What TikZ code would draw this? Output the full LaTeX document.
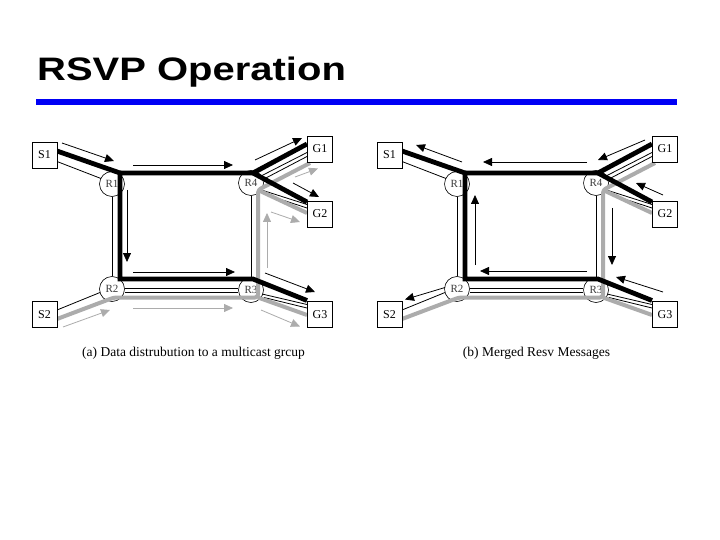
\documentclass[tikz,border=0pt]{standalone}
\usepackage{fontspec}
\usepackage{graphicx}
\setmainfont{Liberation Serif}
\newfontfamily\titlefont{Liberation Sans}
\usetikzlibrary{arrows.meta}
\definecolor{lgray}{RGB}{172,172,172}
\definecolor{barblue}{RGB}{0,0,245}
\definecolor{rtxt}{RGB}{60,60,60}
\tikzset{
  box/.style={draw, fill=white, line width=0.8pt, minimum width=25pt, minimum height=26pt, inner sep=0pt, font=\fontsize{12}{12}\selectfont},
  rtr/.style={draw, circle, line width=0.6pt, minimum size=25pt, inner sep=0pt, text=rtxt, font=\fontsize{11}{11}\selectfont},
  blk/.style={line width=4.8pt, black, line join=miter},
  gry/.style={line width=4pt, lgray, line join=round},
  chan/.style={line width=0.8pt, black},
  barr/.style={line width=0.8pt, black, -{Triangle[length=9pt,width=8pt]}},
  garr/.style={line width=0.8pt, lgray, -{Triangle[length=9pt,width=8pt]}},
  capt/.style={anchor=base, inner sep=0pt, font=\fontsize{13.5}{13.5}\selectfont}
}
\newcommand\rsvpnet[1]{%
  \node[rtr] (#1R1) at (112,184) {R1};
  \node[rtr] (#1R4) at (251,183) {R4};
  \node[rtr] (#1R2) at (112,289) {R2};
  \node[rtr] (#1R3) at (251,290) {R3};
  \coordinate (#1k1) at (120,173);
  \coordinate (#1k4) at (253,173);
  \coordinate (#1k2) at (120,279);
  \coordinate (#1k3) at (253,279);
  \coordinate (#1g2) at (114,297.5);
  \coordinate (#1g3) at (258,297.5);
  \coordinate (#1g4) at (258,190);
  % channel lines
  \draw[chan] (57,161.5) -- (101,178.5);
  \draw[chan] (57,310) -- (100,292.5);
  \draw[chan] (#1R1.south) -- (#1R2.north);
  \draw[chan] (#1R4.south) -- (#1R3.north);
  \draw[chan] (125,288.5) -- (238,288.5);
  \draw[chan] (125,292) -- (238,292);
  \draw[chan] (262,175.5) -- (307,152.5);
  \draw[chan] (264,179) -- (307,156.5);
  \draw[chan] (263,190.5) -- (307,204.5);
  \draw[chan] (264,194) -- (307,208);
  \draw[chan] (262,294) -- (307,304.5);
  \draw[chan] (264,297.5) -- (307,308);
  % gray path
  \draw[gry, rounded corners=3pt] (57,319) -- (#1g2) -- (#1g3) -- (#1g4) -- (310,163);
  \draw[gry] (#1g4) -- (307,213);
  \draw[gry] (#1g3) -- (307,315);
  % black path
  \draw[blk] (57,151) -- (#1k1) -- (#1k2) -- (#1k3) -- (307,300.5);
  \draw[blk] (#1k1) -- (#1k4) -- (307,144);
  \draw[blk] (#1k4) -- (307,202);
  % hosts
  \node[box] (#1S1) at (44.5,155) {S1};
  \node[box] (#1S2) at (44.5,314.5) {S2};
  \node[box] (#1G1) at (320,149) {G1};
  \node[box] (#1G2) at (320,214) {G2};
  \node[box] (#1G3) at (320,314.5) {G3};
}
\begin{document}
\begin{tikzpicture}[x=1pt,y=-1pt]
\useasboundingbox (0,0) rectangle (720,540);
\fill[white] (0,0) rectangle (720,540);
\node[anchor=base west, inner sep=0pt] (title) at (37,81)
  {\scalebox{1.23}[1]{\titlefont\bfseries\fontsize{32.5}{32.5}\selectfont RSVP Operation}};
\fill[barblue] (36,99.5) rectangle (677,105.5);
% panel (a)
\begin{scope}
  \rsvpnet{a}
  \draw[barr] (62,143) -- (114,161);
  \draw[barr] (133,165) -- (233,165);
  \draw[barr] (127,190) -- (127,262);
  \draw[barr] (133,272) -- (235,272);
  \draw[garr] (133,308) -- (233,308);
  \draw[garr] (63,327) -- (110,310);
  \draw[barr] (255,160) -- (302,138);
  \draw[garr] (295,177) -- (318,168.5);
  \draw[barr] (293,183) -- (319,197);
  \draw[garr] (271,212) -- (300,222);
  \draw[garr] (267,268) -- (267,213);
  \draw[barr] (265,273) -- (315,292);
  \draw[garr] (261,310) -- (300,326.5);
  \node[capt] (capa) at (193.5,356) {(a) Data distrubution to a multicast grcup};
\end{scope}
% panel (b)
\begin{scope}[shift={(345,0)}]
  \rsvpnet{b}
  \draw[barr] (117,162) -- (71,145);
  \draw[barr] (242,162) -- (138,162);
  \draw[barr] (130,265) -- (130,195);
  \draw[barr] (242,271) -- (135,271);
  \draw[barr] (100,287.5) -- (60,299.5);
  \draw[barr] (300,140) -- (253,160);
  \draw[barr] (318,195) -- (291,183);
  \draw[barr] (267,208) -- (267,265);
  \draw[barr] (318,292) -- (271,277);
  \node[capt] (capb) at (191.5,356) {(b) Merged Resv Messages};
\end{scope}
\end{tikzpicture}
\end{document}
